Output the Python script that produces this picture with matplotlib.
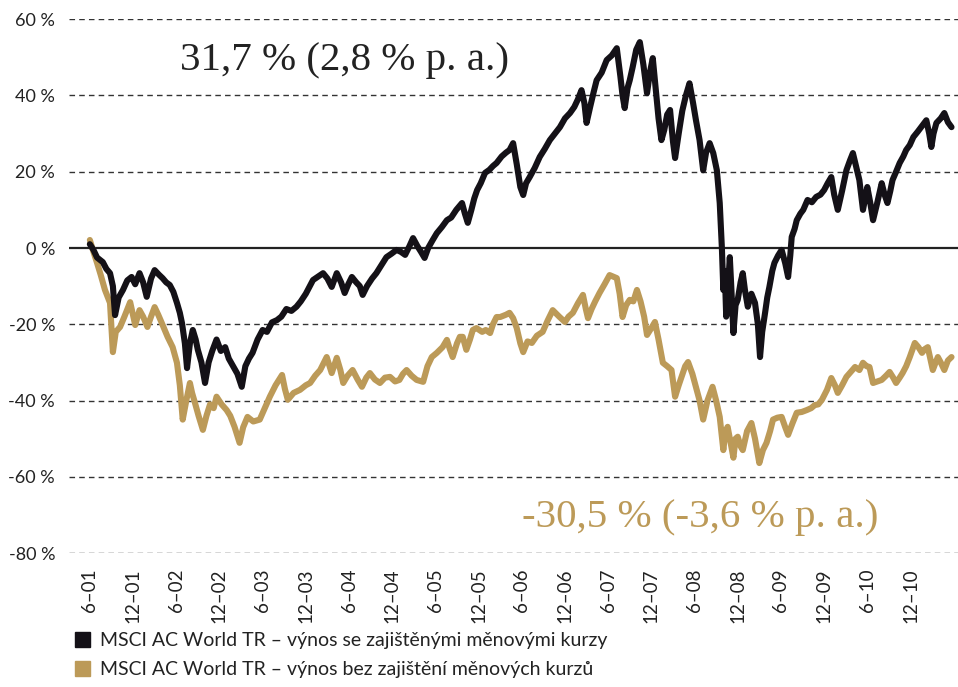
import matplotlib
matplotlib.use("Agg")
import matplotlib.pyplot as plt
from matplotlib.patches import Patch

# month offsets from June 2001 and cumulative return in %
black_months = [0, 0.5, 1.0, 1.8, 2.3, 2.8, 3.2, 3.5, 4.0, 4.6, 5.2, 5.8, 6.3, 6.9, 7.4, 7.9,
                8.5, 9.0, 9.6, 10.1, 10.6, 11.1, 11.6, 12.1, 12.5, 12.8, 13.2, 13.5, 13.9, 14.3,
                14.7, 15.0, 15.5, 16.0, 16.5, 17.0, 17.6, 18.2, 18.8, 19.3, 19.9, 20.5, 21.1,
                21.6, 22.1, 22.6, 23.3, 24.0, 24.6, 25.3, 26.0, 26.6, 27.3, 28.0, 28.7, 29.3,
                30.0, 31.0, 31.7, 32.4, 33.0, 33.6, 34.3, 34.9, 35.4, 35.9, 36.4, 37.0, 37.5,
                37.9, 38.5, 39.2, 39.8, 40.5, 41.2, 41.9, 42.6, 43.2, 43.8, 44.4, 44.9, 45.5,
                46.0, 46.5, 47.0, 47.6, 48.2, 48.9, 49.6, 50.2, 50.9, 51.7, 52.1, 52.5, 53.0,
                53.4, 53.8, 54.3, 54.9, 55.5, 56.0, 56.5, 57.2, 57.8, 58.3, 58.8, 59.3, 59.8,
                60.2, 60.6, 61.1, 61.8, 62.5, 63.2, 63.9, 64.6, 65.3, 66.0, 66.7, 67.3, 67.8,
                68.3, 68.7, 69.0, 69.5, 70.0, 70.4, 71.1, 71.8, 72.5, 73.2, 73.7, 74.0, 74.3,
                74.7, 75.0, 75.4, 75.9, 76.4, 76.9, 77.4, 77.8, 78.2, 78.6, 79.0, 79.4, 79.8,
                80.2, 80.6, 81.0, 81.3, 81.8, 82.3, 82.8, 83.3, 83.8, 84.2, 84.7, 85.2, 85.6,
                86.1, 86.6, 87.1, 87.5, 87.8, 88.0, 88.2, 88.4, 88.6, 88.9, 89.1, 89.4, 89.7,
                90.0, 90.4, 90.7, 91.0, 91.4, 91.9, 92.4, 92.8, 93.1, 93.4, 93.8, 94.1, 94.4,
                94.8, 95.1, 95.6, 96.1, 96.6, 97.0, 97.3, 97.5, 97.9, 98.2, 98.7, 99.1, 99.7,
                100.3, 100.9, 101.5, 102.0, 102.5, 103.0, 103.4, 103.9, 104.5, 105.1, 105.6,
                106.0, 106.5, 106.9, 107.4, 107.7, 108.0, 108.4, 108.8, 109.4, 110.0, 110.4,
                110.8, 111.2, 111.5, 112.0, 112.5, 113.0, 113.4, 113.9, 114.4, 115.0, 115.6,
                116.2, 116.6, 116.9, 117.2, 117.6, 118.2, 118.7, 119.2, 119.7]
black_values = [1.0, -0.5, -2.5, -3.7, -5.5, -6.6, -10, -17.6, -13, -11, -8.5, -7.6, -9.5, -6.6,
                -9, -12.8, -8, -5.8, -7, -7.9, -9, -9.7, -11.5, -14.4, -17, -19.7, -25, -31.5,
                -25, -21.5, -24, -26.7, -30, -35.4, -30, -27, -24, -27, -26, -29, -31, -33,
                -36.4, -31, -29, -27.5, -24, -21.5, -22, -19.5, -18.9, -18, -16, -16.5, -15.4,
                -14, -12, -8.4, -7.5, -6.6, -8, -10.2, -6.6, -9, -11.8, -9.5, -7.6, -9, -10,
                -12.3, -10, -8, -6.6, -4.5, -2.4, -1.5, -0.5, -1, -1.8, 0.5, 2.6, 0.5, -1,
                -2.6, 0, 2, 3.9, 5.5, 7.3, 8, 10, 11.8, 9, 6.6, 10, 13, 15.2, 17, 19.7, 20.5,
                21.5, 22.3, 24, 25, 25.7, 27.5, 22, 16, 13.9, 17, 18.6, 21, 23.9, 26, 28.3, 30,
                31.7, 34, 35.4, 37, 39, 41.4, 38, 32.8, 37, 41, 44, 46, 49.3, 50.5, 52.4, 45,
                40, 36.7, 42, 44, 47.4, 52, 54, 48, 40.6, 46, 49.8, 42, 34, 28.3, 31, 35, 36.2,
                28, 23.6, 30, 36, 40, 43.2, 38, 33.5, 28.3, 20.4, 25, 27.5, 24.9, 20.4, 11.8, 0,
                -11, -6, -18, -12, -2.4, -10, -22.3, -15, -13.6, -9, -6.6, -11, -15.4, -12,
                -14.4, -20, -28.6, -22, -17, -13, -10.2, -6, -3.9, -2, -0.5, -4, -7.6, -2, 2.9,
                5, 7.3, 9, 10, 12.6, 12, 13.4, 14, 15.2, 17, 18.6, 14, 10, 15, 20.4, 23, 24.9,
                21, 17.8, 10, 13, 16, 12, 7.3, 12, 17, 14, 11.8, 15, 17.8, 20, 22.3, 24, 25.7,
                27, 29.1, 30.5, 32, 33.5, 30, 26.5, 30, 32.8, 34, 35.4, 33, 31.7]

gold_months = [0, 0.5, 1.0, 1.5, 2.1, 2.8, 3.2, 3.6, 4.2, 4.8, 5.6, 6.3, 6.9, 7.4, 8.0, 8.5,
               9.0, 9.5, 10.0, 10.8, 11.5, 12.1, 12.5, 12.9, 13.4, 13.9, 14.2, 14.6, 15.1,
               15.7, 16.2, 16.7, 17.2, 17.6, 18.3, 19.0, 19.5, 20.1, 20.8, 21.3, 21.9, 22.7,
               23.6, 24.3, 25.0, 25.8, 26.7, 27.1, 27.5, 28.3, 29.2, 30.0, 30.6, 31.3, 32.0,
               32.9, 33.6, 34.3, 34.8, 35.2, 35.8, 36.5, 37.2, 37.8, 38.4, 38.9, 39.6, 40.3,
               41.0, 41.7, 42.4, 43.0, 43.5, 44.0, 44.7, 45.4, 46.3, 46.9, 47.5, 48.2, 49.0,
               49.6, 50.0, 50.4, 51.0, 51.4, 51.8, 52.3, 52.8, 53.2, 53.7, 54.5, 55.0, 55.6,
               56.0, 56.5, 57.0, 57.8, 58.3, 58.8, 59.3, 59.8, 60.2, 60.8, 61.4, 62.1, 62.9,
               63.6, 64.3, 65.2, 66.0, 66.5, 67.1, 67.8, 68.5, 68.9, 69.2, 69.7, 70.2, 70.8,
               71.5, 72.2, 72.7, 73.2, 73.6, 74.0, 74.5, 75.0, 75.5, 76.0, 76.5, 77.0, 77.4,
               78.0, 78.5, 79.0, 79.6, 80.2, 80.8, 81.3, 81.8, 82.2, 82.7, 83.1, 83.7, 84.3,
               84.7, 85.2, 85.8, 86.5, 87.0, 87.5, 88.0, 88.3, 88.6, 89.0, 89.4, 89.7, 90.0,
               90.4, 90.7, 91.3, 91.9, 92.4, 93.0, 93.5, 94.0, 94.5, 94.9, 95.5, 96.1, 96.6,
               97.0, 97.6, 98.2, 98.9, 99.6, 100.2, 100.7, 101.2, 101.7, 102.4, 103.0, 103.5,
               103.9, 104.5, 105.1, 105.7, 106.3, 106.9, 107.4, 107.9, 108.3, 108.8, 109.4,
               110.0, 110.6, 111.1, 111.6, 112.0, 112.5, 112.9, 113.4, 113.9, 114.6, 115.1,
               115.6, 116.0, 116.4, 116.8, 117.1, 117.5, 117.8, 118.2, 118.7, 119.2, 119.7]
gold_values = [2.1, -1, -3.9, -7, -11, -14.4, -27.3, -22, -20.7, -18, -14.2, -20.2, -16.3, -18,
               -20.7, -18, -15.5, -17.5, -19.7, -23.3, -26, -30.1, -36, -45, -40, -35.4, -38,
               -40.6, -44, -47.7, -44, -41, -42, -39, -41, -42.5, -44, -46.9, -51.1, -47,
               -44.3, -45.5, -45, -42, -39, -36, -33.3, -37, -39.8, -38, -37.2, -36, -35.4,
               -33.5, -32, -28.6, -32.8, -28.8, -32, -35.4, -33.5, -32, -34.5, -36.4, -34,
               -32.8, -34.5, -35.4, -34, -33.8, -35, -34.6, -33, -32, -33.5, -34.6, -35.1, -31,
               -28.6, -27.5, -26, -24.1, -26.5, -28.6, -25, -23.3, -23.3, -26.7, -24, -21.5,
               -21, -22, -21.5, -22.3, -20, -18.1, -18.1, -17.5, -17, -18.4, -21, -25, -27.3,
               -24.5, -24.9, -23, -22, -19, -16.3, -18, -19.4, -18, -17, -14.5, -12.3, -16,
               -18.4, -16, -14, -11.8, -9.5, -7.1, -7.5, -7.9, -12, -18.1, -15, -13.6, -14,
               -11, -14, -18, -22.8, -21, -19.4, -24, -30.1, -31, -32, -39, -36, -33.8, -31,
               -29.9, -33, -37.2, -40, -45, -40, -36.4, -40, -44.3, -53, -48, -46.9, -51, -55,
               -50, -49.5, -52, -53, -48, -45.9, -50, -56.4, -53, -51.1, -48, -45, -44.5,
               -44.3, -47, -49, -46, -43.2, -43, -42.5, -42, -41.2, -41, -39.8, -37.2, -34.1,
               -36, -38, -36, -33.8, -32.5, -31.2, -32, -30.1, -31, -31.2, -35.4, -35, -34.6,
               -33.5, -32.5, -34, -35.4, -34, -32.8, -31, -28.6, -24.9, -26, -27.5, -26.5,
               -26, -29.5, -32, -30, -28.6, -30, -32, -29.5, -28.6]

tick_months = [0, 6, 12, 18, 24, 30, 36, 42, 48, 54, 60, 66, 72, 78, 84, 90, 96, 102, 108, 114]
tick_labels = ['6–01', '12–01', '6–02', '12–02', '6–03', '12–03', '6–04', '12–04', '6–05',
               '12–05', '6–06', '12–06', '6–07', '12–07', '6–08', '12–08', '6–09', '12–09',
               '6–10', '12–10']
y_ticks = [60, 40, 20, 0, -20, -40, -60, -80]

black_name = 'MSCI AC World TR – výnos se zajištěnými měnovými kurzy'
gold_name = 'MSCI AC World TR – výnos bez zajištění měnových kurzů'

BLACK = '#141117'
GOLD = '#BC9A58'

plt.rcParams['font.family'] = ['Lato', 'DejaVu Sans']

fig = plt.figure(figsize=(9.58, 6.87), dpi=100)
ax = fig.add_axes([0.072, 0.195, 0.928, 0.777])

for v in y_ticks:
    if v == 0:
        ax.axhline(v, color='#222222', lw=1.6, zorder=1)
    else:
        ax.axhline(v, color='#333333', lw=1.0, dashes=(4, 3), zorder=1)

ax.plot(gold_months, gold_values, color=GOLD, lw=4.4, solid_joinstyle='round',
        solid_capstyle='round', zorder=2)
ax.plot(black_months, black_values, color=BLACK, lw=4.4, solid_joinstyle='round',
        solid_capstyle='round', zorder=3)

ax.set_xlim(-2.9, 120.6)
ax.set_ylim(-80, 60)
ax.set_yticks(y_ticks)
ax.set_yticklabels([f'{v} %' for v in y_ticks], fontsize=13, color='#222222')
ax.set_xticks(tick_months)
ax.set_xticklabels(tick_labels, rotation=90, fontsize=13.5, color='#222222')
ax.tick_params(length=0, axis='y', pad=10)
ax.tick_params(length=0, axis='x', pad=11)
for s in ax.spines.values():
    s.set_visible(False)

ax.text(0.125, 0.922, '31,7 % (2,8 % p. a.)', transform=ax.transAxes,
        family='Liberation Serif', fontsize=29.5, color='#222222', va='center', ha='left')
ax.text(0.51, 0.067, '-30,5 % (-3,6 % p. a.)', transform=ax.transAxes,
        family='Liberation Serif', fontsize=29.5, color=GOLD, va='center', ha='left')

handles = [Patch(color=BLACK, label=black_name), Patch(color=GOLD, label=gold_name)]
fig.legend(handles=handles, loc='upper left', bbox_to_anchor=(0.078, 0.08), frameon=False,
           fontsize=14, handlelength=0.8, handleheight=0.8, handletextpad=0.5,
           labelspacing=0.62, borderaxespad=0, borderpad=0, labelcolor='#222222')

fig.savefig('out.png', dpi=100)
